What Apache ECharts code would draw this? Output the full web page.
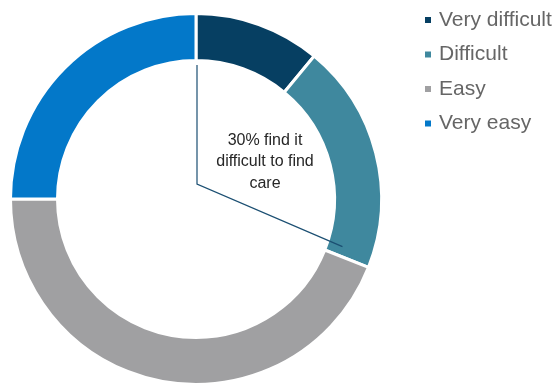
<!DOCTYPE html>
<html>
<head>
<meta charset="utf-8">
<script src="https://cdn.jsdelivr.net/npm/echarts@6/dist/echarts.min.js"></script>
<style>
  html, body { margin: 0; padding: 0; background: #ffffff; }
  #chart { width: 556px; height: 384px; }
</style>
</head>
<body>
<div id="chart"></div>
<script>
// Survey responses: how easy it is to find care (percent of respondents)
const categories = ['Very difficult', 'Difficult', 'Easy', 'Very easy'];
const shares = [11, 20, 44, 25];
const colors = ['#063f62', '#3f889e', '#a0a0a2', '#0378c9'];
const calloutText = '30% find it\ndifficult to find\ncare';
const calloutShare = 30;

const cx = 196, cy = 199;
const innerR = 138.5, outerR = 185.5;

// Callout leader: vertical from the top of the hole, then out towards the
// edge of the "difficult" arc at the stated share
const theta = calloutShare / 100 * 2 * Math.PI;
const reach = 154;
const corner = [cx + 1, cy - 15];
const leaderTop = [cx + 1, cy - 134];
const leaderEnd = [cx + reach * Math.sin(theta), cy - reach * Math.cos(theta)];

const chart = echarts.init(document.getElementById('chart'), null, { renderer: 'canvas' });

chart.setOption({
  animation: false,
  color: colors,
  legend: {
    orient: 'vertical',
    left: 423,
    top: 9.5,
    padding: 0,
    icon: 'rect',
    itemWidth: 8,
    itemHeight: 8,
    itemGap: 13.5,
    textStyle: {
      fontFamily: 'Liberation Sans, Arial, sans-serif',
      fontSize: 21,
      lineHeight: 21,
      color: '#666666',
      padding: [0, 0, 0, 2]
    },
    data: categories
  },
  series: [{
    type: 'pie',
    center: [cx, cy],
    radius: [innerR, outerR],
    startAngle: 90,
    clockwise: true,
    silent: true,
    label: { show: false },
    labelLine: { show: false },
    itemStyle: { borderColor: '#ffffff', borderWidth: 3 },
    data: categories.map((name, i) => ({ name, value: shares[i] }))
  }],
  graphic: [
    {
      type: 'polyline',
      shape: { points: [leaderTop, corner, leaderEnd] },
      style: { stroke: '#1b4f72', lineWidth: 1.2, fill: null },
      z: 100
    },
    {
      type: 'text',
      x: 265,
      y: 162,
      style: {
        text: calloutText,
        fontFamily: 'Liberation Sans, Arial, sans-serif',
        fontSize: 16,
        lineHeight: 21.5,
        fill: '#262626',
        align: 'center',
        verticalAlign: 'middle'
      },
      z: 100
    }
  ]
});
</script>
</body>
</html>
